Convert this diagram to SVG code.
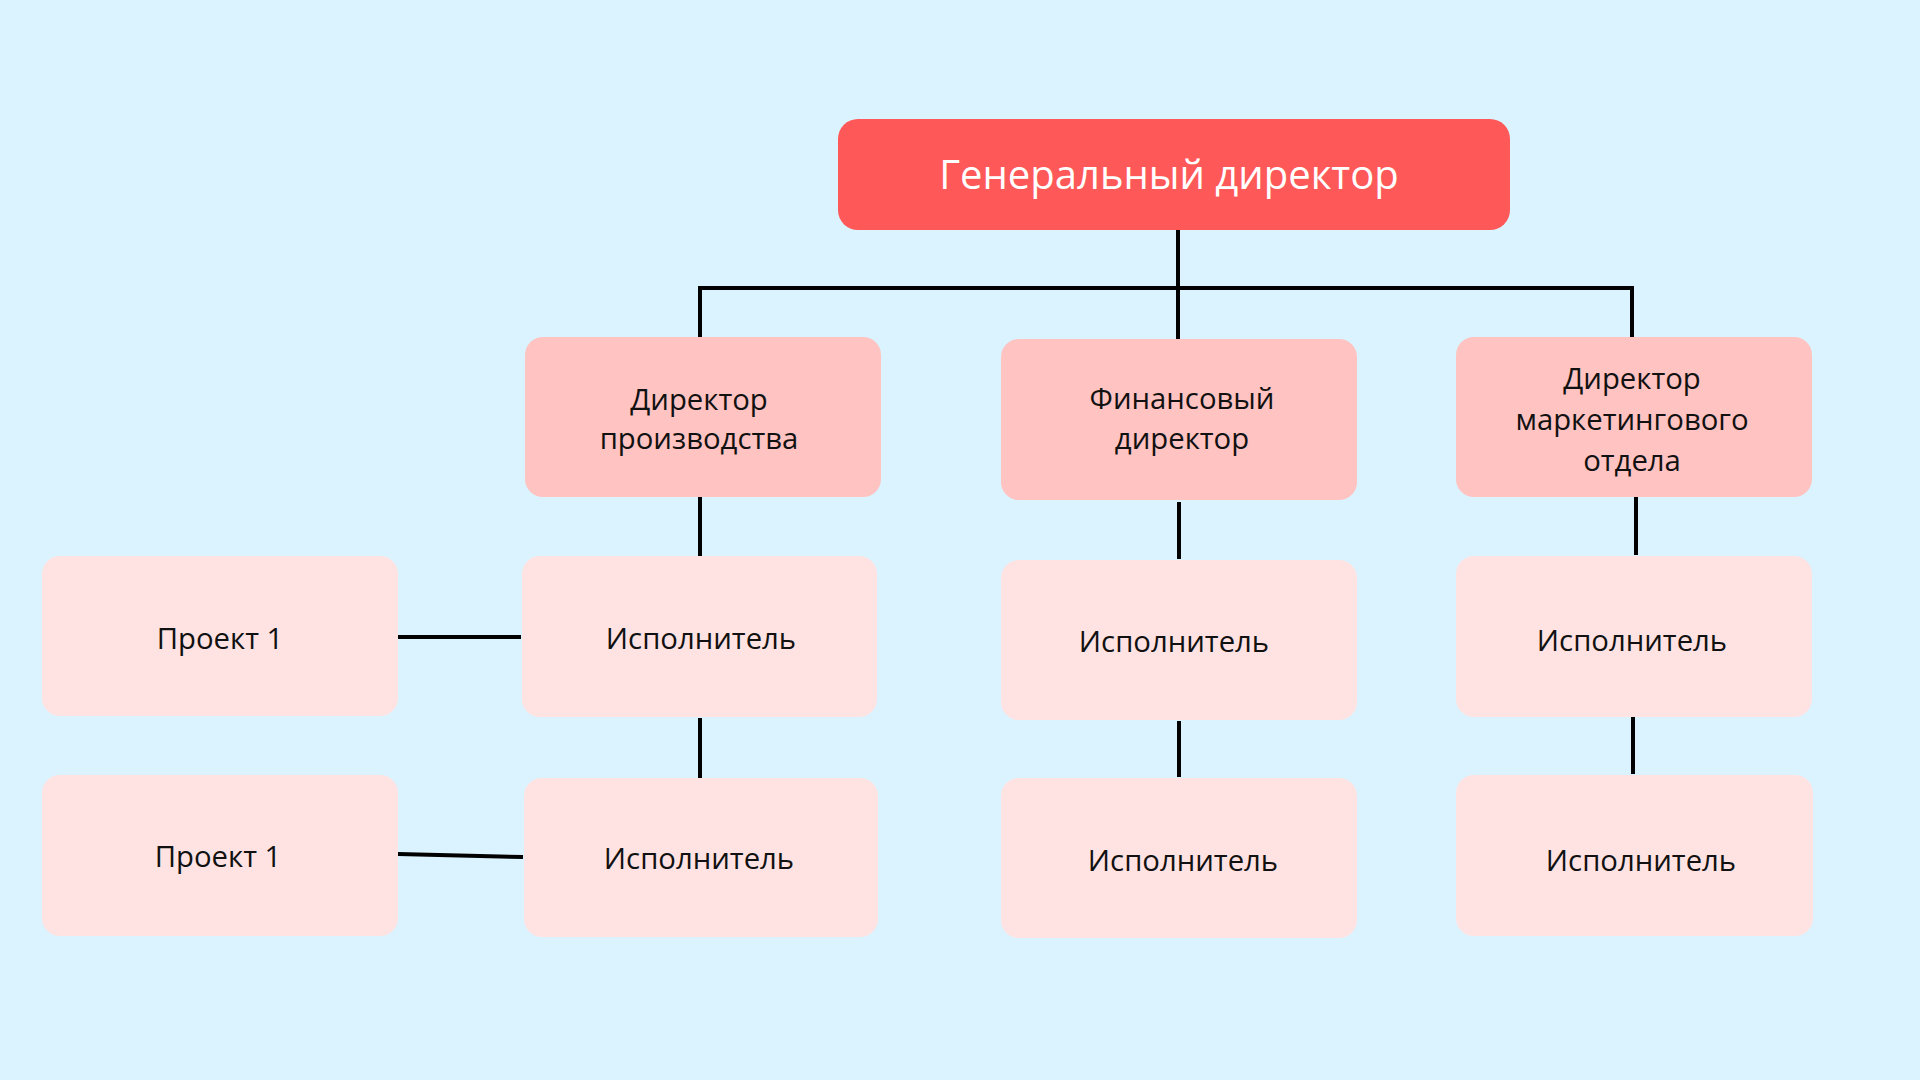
<svg xmlns="http://www.w3.org/2000/svg" width="1920" height="1080" viewBox="0 0 1920 1080">
<style>
.bg{fill:#DBF3FE}
.top{fill:#FF5858}
.dir{fill:#FFC3C2}
.ex{fill:#FFE3E3}
.t{font-family:"Open Sans","DejaVu Sans",sans-serif;font-size:29.3px;fill:#111;text-anchor:middle}
.tt{font-family:"Open Sans","DejaVu Sans",sans-serif;font-size:40px;fill:#FFFFFF;text-anchor:middle}
.c{stroke:#000;stroke-width:4;fill:none}
</style>
<rect class="bg" x="0" y="0" width="1920" height="1080"/>
<g id="connectors">
<path class="c" d="M1178 230 V340"/>
<path class="c" d="M700 337 V288 H1632 V337"/>
<path class="c" d="M700 497 V556"/>
<path class="c" d="M1179 502 V559"/>
<path class="c" d="M1636 497 V555"/>
<path class="c" d="M700 718 V778"/>
<path class="c" d="M1179 721 V777"/>
<path class="c" d="M1633 717 V774"/>
<path class="c" d="M398 637 H521"/>
<path class="c" d="M398 854 L523 857"/>
</g>
<g id="ceo">
<rect class="top" x="838" y="119" width="672" height="111" rx="20"/>
<text class="tt" x="1169" y="189">Генеральный директор</text>
</g>
<g id="dir-prod">
<rect class="dir" x="525" y="337" width="356" height="160" rx="18"/>
<text class="t" x="699" y="410">Директор</text>
<text class="t" x="699" y="449">производства</text>
</g>
<g id="dir-fin">
<rect class="dir" x="1001" y="339" width="356" height="161" rx="18"/>
<text class="t" x="1182" y="409">Финансовый</text>
<text class="t" x="1182" y="449">директор</text>
</g>
<g id="dir-mkt">
<rect class="dir" x="1456" y="337" width="356" height="160" rx="18"/>
<text class="t" x="1632" y="389">Директор</text>
<text class="t" x="1632" y="430">маркетингового</text>
<text class="t" x="1632" y="471">отдела</text>
</g>
<g id="proj-1">
<rect class="ex" x="42" y="556" width="356" height="160" rx="18"/>
<text class="t" x="220" y="649">Проект 1</text>
</g>
<g id="proj-2">
<rect class="ex" x="42" y="775" width="356" height="161" rx="18"/>
<text class="t" x="218" y="867">Проект 1</text>
</g>
<g id="exec-1">
<rect class="ex" x="522" y="556" width="355" height="161" rx="18"/>
<text class="t" x="701" y="649">Исполнитель</text>
</g>
<g id="exec-2">
<rect class="ex" x="1001" y="560" width="356" height="160" rx="18"/>
<text class="t" x="1174" y="652">Исполнитель</text>
</g>
<g id="exec-3">
<rect class="ex" x="1456" y="556" width="356" height="161" rx="18"/>
<text class="t" x="1632" y="651">Исполнитель</text>
</g>
<g id="exec-4">
<rect class="ex" x="524" y="778" width="354" height="159" rx="18"/>
<text class="t" x="699" y="869">Исполнитель</text>
</g>
<g id="exec-5">
<rect class="ex" x="1001" y="778" width="356" height="160" rx="18"/>
<text class="t" x="1183" y="871">Исполнитель</text>
</g>
<g id="exec-6">
<rect class="ex" x="1456" y="775" width="357" height="161" rx="18"/>
<text class="t" x="1641" y="871">Исполнитель</text>
</g>
</svg>
